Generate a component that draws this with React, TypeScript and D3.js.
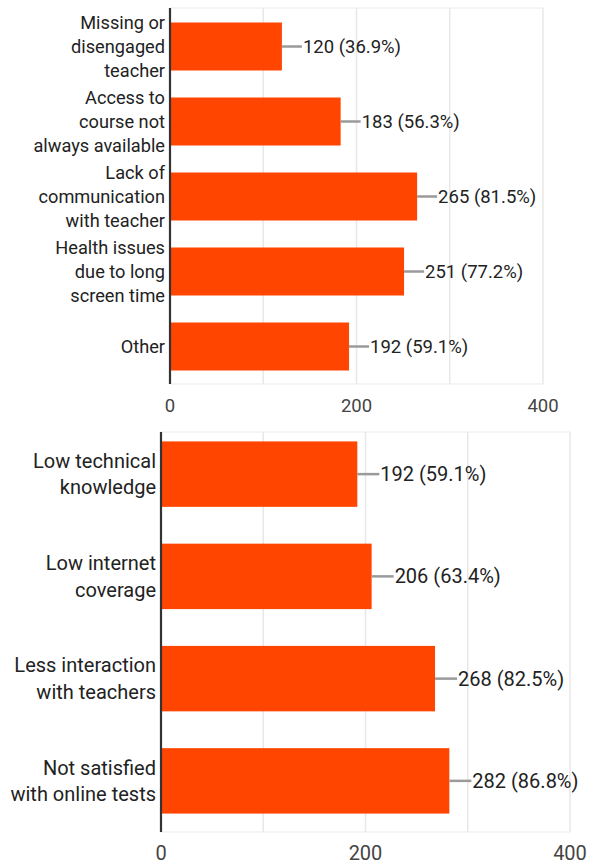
import React from "react";
import * as d3 from "d3";

// Top chart data
const topCategories: string[][] = [
  ["Missing or", "disengaged", "teacher"],
  ["Access to", "course not", "always available"],
  ["Lack of", "communication", "with teacher"],
  ["Health issues", "due to long", "screen time"],
  ["Other"],
];
const topValues: number[] = [120, 183, 265, 251, 192];
const topPercents: string[] = ["36.9%", "56.3%", "81.5%", "77.2%", "59.1%"];

// Bottom chart data
const bottomCategories: string[][] = [
  ["Low technical", "knowledge"],
  ["Low internet", "coverage"],
  ["Less interaction", "with teachers"],
  ["Not satisfied", "with online tests"],
];
const bottomValues: number[] = [192, 206, 268, 282];
const bottomPercents: string[] = ["59.1%", "63.4%", "82.5%", "86.8%"];

const gridTicks: number[] = [0, 100, 200, 300, 400];
const labelTicks: number[] = [0, 200, 400];

const BAR = "#ff4500";
const FONT = "Roboto, 'Noto Sans', sans-serif";

type PanelProps = {
  cats: string[][];
  values: number[];
  percents: string[];
  x0: number;
  x1: number;
  yTop: number;
  yBottom: number;
  plotTop: number;
  padding: number;
  fontSize: number;
  lineH: number;
  valueFont: number;
  tickFont: number;
  tickY: number;
  leader: number;
};

function Panel(p: PanelProps) {
  const x = d3.scaleLinear().domain([0, 400]).range([p.x0, p.x1]);
  const y = d3
    .scaleBand<number>()
    .domain(d3.range(p.cats.length))
    .range([p.yTop, p.yBottom])
    .paddingInner(p.padding)
    .paddingOuter(p.padding / 2);
  return (
    <g fontFamily={FONT}>
      {gridTicks.map((t) => (
        <line
          key={"g" + t}
          x1={x(t)}
          x2={x(t)}
          y1={p.plotTop}
          y2={p.yBottom}
          stroke="#e8e8e8"
          strokeWidth={1.5}
        />
      ))}
      <line x1={p.x0} x2={p.x1} y1={p.plotTop} y2={p.plotTop} stroke="#ececec" strokeWidth={1.2} />
      <line x1={p.x0} x2={p.x1} y1={p.yBottom} y2={p.yBottom} stroke="#ececec" strokeWidth={1.2} />
      {p.values.map((v, i) => {
        const yb = y(i)!;
        const cy = yb + y.bandwidth() / 2;
        const xe = x(v);
        return (
          <g key={"b" + i}>
            <rect x={p.x0} y={yb} width={xe - p.x0} height={y.bandwidth()} fill={BAR} />
            <line x1={xe} x2={xe + p.leader} y1={cy} y2={cy} stroke="#9a9a9a" strokeWidth={2.5} />
            <text
              x={xe + p.leader + 1}
              y={cy}
              dy="0.35em"
              fontSize={p.valueFont}
              fill="#222"
            >
              {`${v} (${p.percents[i]})`}
            </text>
            <text
              x={p.x0 - 5}
              y={cy - ((p.cats[i].length - 1) * p.lineH) / 2}
              fontSize={p.fontSize}
              fill="#222"
              textAnchor="end"
            >
              {p.cats[i].map((l, j) => (
                <tspan key={j} x={p.x0 - 5} dy={j === 0 ? "0.35em" : p.lineH}>
                  {l}
                </tspan>
              ))}
            </text>
          </g>
        );
      })}
      <line x1={p.x0} x2={p.x0} y1={p.plotTop} y2={p.yBottom} stroke="#333" strokeWidth={2.2} />
      {labelTicks.map((t) => (
        <text
          key={"t" + t}
          x={x(t)}
          y={p.tickY}
          dy="0.35em"
          textAnchor="middle"
          fontSize={p.tickFont}
          fill="#444"
        >
          {t}
        </text>
      ))}
    </g>
  );
}

export default function App() {
  return (
    <svg
      width={590}
      height={864}
      style={{ position: "absolute", left: 0, top: 0, background: "#fff" }}
    >
      <rect width={590} height={864} fill="#fff" />
      <Panel
        cats={topCategories}
        values={topValues}
        percents={topPercents}
        x0={170}
        x1={543}
        yTop={9}
        yBottom={384}
        plotTop={8}
        padding={0.36}
        fontSize={18.2}
        lineH={24}
        valueFont={18.5}
        tickFont={18.5}
        tickY={406}
        leader={20}
      />
      <Panel
        cats={bottomCategories}
        values={bottomValues}
        percents={bottomPercents}
        x0={161}
        x1={570}
        yTop={423}
        yBottom={832}
        plotTop={432}
        padding={0.36}
        fontSize={20}
        lineH={26.5}
        valueFont={20}
        tickFont={20}
        tickY={853}
        leader={22}
      />
    </svg>
  );
}
